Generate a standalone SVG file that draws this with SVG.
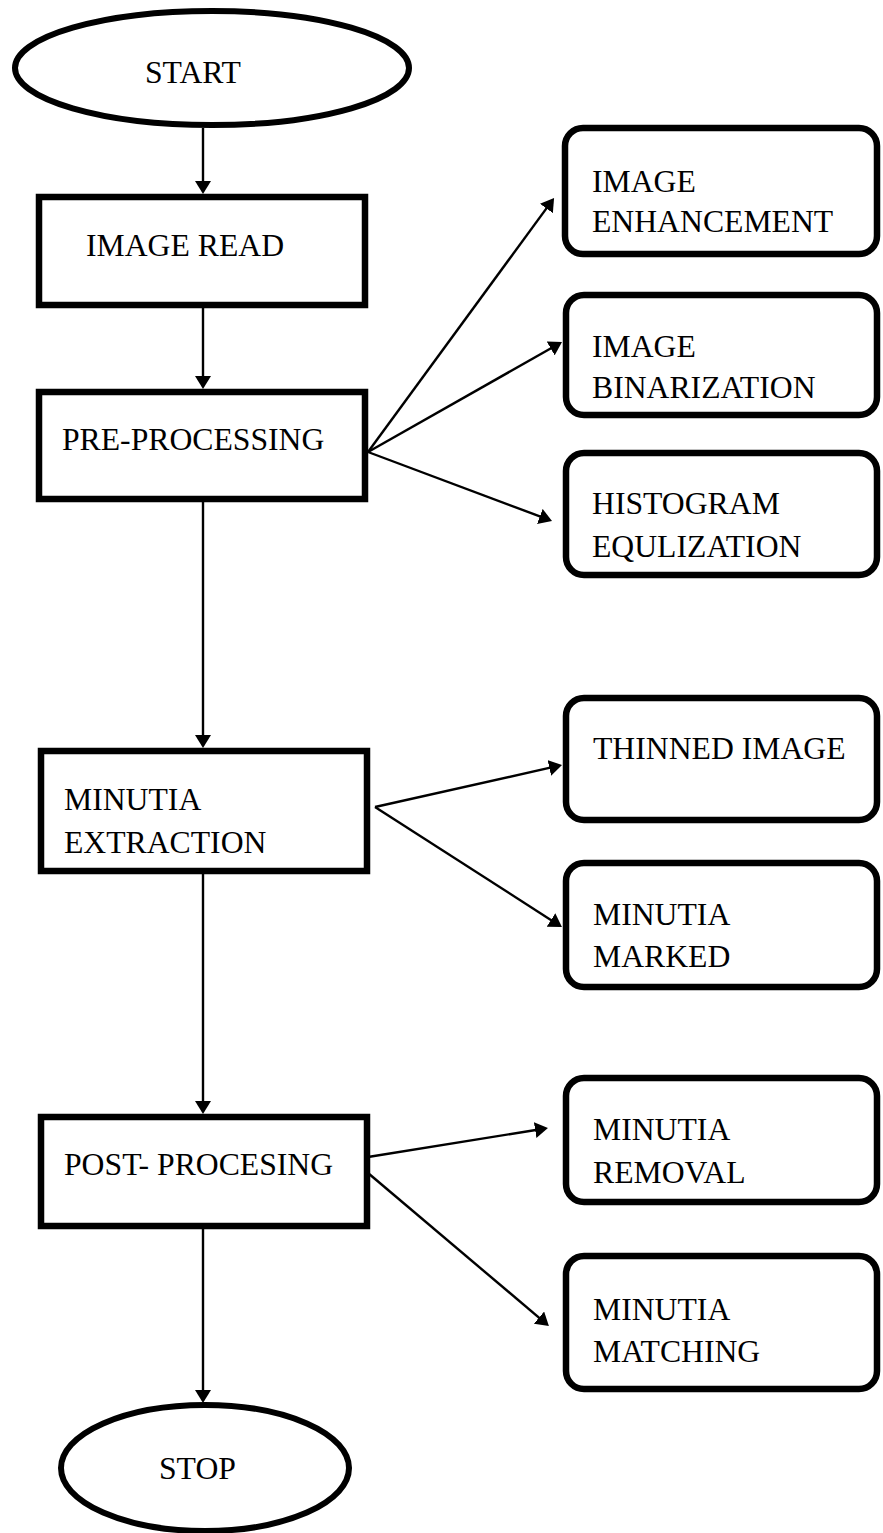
<svg xmlns="http://www.w3.org/2000/svg" width="883" height="1533" viewBox="0 0 883 1533">
<style>
text{font-family:"Liberation Serif","Times New Roman",serif;font-size:31.7px;fill:#000}
.box{fill:#fff;stroke:#000;stroke-width:6.5}
.rbox{fill:#fff;stroke:#000;stroke-width:6.5}
.term{fill:#fff;stroke:#000;stroke-width:6}
.conn line{stroke:#000;stroke-width:2.4;marker-end:url(#ah)}
</style>
<defs>
<marker id="ah" markerUnits="userSpaceOnUse" viewBox="0 0 13 16" refX="10" refY="8" markerWidth="13" markerHeight="16" orient="auto">
<path d="M0,0 L13,8 L0,16 Z" fill="#000"/>
</marker>
</defs>
<g id="start"><ellipse class="term" cx="212" cy="68" rx="197" ry="57"/><text x="145" y="83">START</text></g>
<g id="image-read"><rect class="box" x="39" y="197" width="326" height="108"/><text x="86" y="256">IMAGE READ</text></g>
<g id="pre-processing"><rect class="box" x="39" y="392" width="326" height="107"/><text x="62" y="450">PRE-PROCESSING</text></g>
<g id="minutia-extraction"><rect class="box" x="41" y="751" width="326" height="120"/><text x="64" y="810">MINUTIA</text><text x="64" y="853">EXTRACTION</text></g>
<g id="post-processing"><rect class="box" x="41" y="1117" width="326" height="109"/><text x="64" y="1175">POST- PROCESING</text></g>
<g id="stop"><ellipse class="term" cx="205" cy="1468" rx="144" ry="63"/><text x="159" y="1479">STOP</text></g>
<g id="image-enhancement"><rect class="rbox" x="565" y="128" width="312" height="126" rx="18"/><text x="592" y="192">IMAGE</text><text x="592" y="232">ENHANCEMENT</text></g>
<g id="image-binarization"><rect class="rbox" x="566" y="295" width="311" height="120" rx="18"/><text x="592" y="357">IMAGE</text><text x="592" y="398">BINARIZATION</text></g>
<g id="histogram-equalization"><rect class="rbox" x="566" y="453" width="311" height="122" rx="18"/><text x="592" y="514">HISTOGRAM</text><text x="592" y="557">EQULIZATION</text></g>
<g id="thinned-image"><rect class="rbox" x="566" y="698" width="311" height="122" rx="18"/><text x="593" y="759">THINNED IMAGE</text></g>
<g id="minutia-marked"><rect class="rbox" x="566" y="863" width="311" height="124" rx="18"/><text x="593" y="925">MINUTIA</text><text x="593" y="967">MARKED</text></g>
<g id="minutia-removal"><rect class="rbox" x="566" y="1078" width="311" height="124" rx="18"/><text x="593" y="1140">MINUTIA</text><text x="593" y="1183">REMOVAL</text></g>
<g id="minutia-matching"><rect class="rbox" x="566" y="1256" width="311" height="133" rx="18"/><text x="593" y="1320">MINUTIA</text><text x="593" y="1362">MATCHING</text></g>
<g id="connectors" class="conn">
<line x1="203" y1="128" x2="203" y2="191"/>
<line x1="203" y1="308" x2="203" y2="386"/>
<line x1="203" y1="502" x2="203" y2="745"/>
<line x1="203" y1="874" x2="203" y2="1111"/>
<line x1="203" y1="1229" x2="203" y2="1400"/>
<line x1="368" y1="452" x2="552.3" y2="200.4"/>
<line x1="368" y1="452" x2="559.4" y2="343.5"/>
<line x1="368" y1="452" x2="549.2" y2="519.9"/>
<line x1="375" y1="807" x2="559.1" y2="765.7"/>
<line x1="375" y1="807" x2="559.4" y2="925.4"/>
<line x1="368" y1="1157" x2="545" y2="1128.5"/>
<line x1="368" y1="1173" x2="546.6" y2="1324.1"/>
</g>
</svg>
